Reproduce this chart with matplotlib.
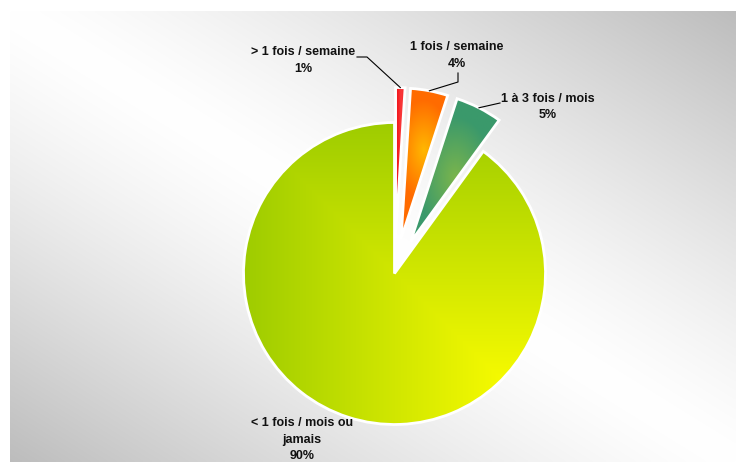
import numpy as np
import matplotlib.pyplot as plt

# frequency categories, clockwise from 12 o'clock
labels = [["> 1 fois / semaine"], ["1 fois / semaine"], ["1 à 3 fois / mois"],
          ["< 1 fois / mois ou", "jamais"]]
values = [1, 4, 5, 90]
explode = [35, 35, 35, 0]   # offsets in pixels (pie radius is in pixels too)

W, H = 736, 462
plt.rcParams['font.family'] = ['Liberation Sans', 'DejaVu Sans']

fig = plt.figure(figsize=(W / 100, H / 100), dpi=100)
ax = fig.add_axes([0, 0, 1, 1])


def Y(y_img):
    # image rows (top = 0) to data y
    return H - y_img


# background panel: light along the main diagonal, grey in the other corners
px0, px1, py0, py1 = 10, W, 11, H
u = np.linspace(0, 1, 300)[None, :]
v = np.linspace(0, 1, 200)[:, None]
g = 1 - 0.26 * np.abs(u - v) ** 1.3
ax.imshow(np.dstack([g, g, g]), extent=[px0, px1, Y(py1), Y(py0)],
          origin='upper', zorder=0, interpolation='bilinear')

cx, cy, R = 394.5, 273.5, 151
wedges, _ = ax.pie(values, explode=explode, startangle=90, counterclock=False,
                   radius=R, center=(cx, Y(cy)), frame=True,
                   wedgeprops=dict(facecolor='none', edgecolor='white', linewidth=2.0))
ax.set_xlim(0, W)
ax.set_ylim(0, H)
ax.set_aspect('equal')
ax.axis('off')


def shade(w, func, zorder=1):
    # fill a wedge with a gradient image clipped to its outline
    x0, x1 = w.center[0] - R, w.center[0] + R
    y0, y1 = w.center[1] - R, w.center[1] + R
    xs = np.linspace(x0, x1, 400)
    ys = np.linspace(y1, y0, 400)
    X, Yy = np.meshgrid(xs, ys)
    rgb = func(X, H - Yy)
    im = ax.imshow(rgb, extent=[x0, x1, y0, y1], origin='upper',
                   zorder=zorder, interpolation='bilinear')
    im.set_clip_path(w)
    w.set_zorder(zorder + 0.5)


def blend(c0, c1, t):
    c0 = np.array(c0)[None, None, :]
    c1 = np.array(c1)[None, None, :]
    return c0 + (c1 - c0) * np.clip(t, 0, 1)[..., None]


def red(x, y):
    t = np.exp(-((x - 401) / 3.0) ** 2)
    return blend((0.95, 0.08, 0.10), (1.0, 0.35, 0.35), t * 0.5)


def orange(x, y):
    d = np.hypot(x - 424, (y - 150) / 1.8)
    return blend((1.0, 0.72, 0.0), (1.0, 0.42, 0.0), d / 28)


def green(x, y):
    d = np.hypot(x - 456, (y - 178) / 1.6)
    return blend((0.48, 0.71, 0.30), (0.23, 0.60, 0.42), d / 38)


def main(x, y):
    # rectangular gradient spreading from the top-left corner of the pie box
    uu = (x - (cx - R)) / (2 * R)
    vv = (y - (cy - R)) / (2 * R)
    t = np.minimum(uu, vv) / 0.9
    return blend((0.62, 0.80, 0.0), (0.98, 0.99, 0.0), t)


for w, f in zip(wedges, [red, orange, green, main]):
    shade(w, f)

# labels, one line at a time (baselines in image rows)
fs = 9
pct = ["%d%%" % p for p in values]
label_x = [303, 457, 548, 302]
label_base = [55, 50.5, 101.5, 426]
pitch = 16.6
for lines, p, lx, by in zip(labels, pct, label_x, label_base):
    for k, line in enumerate(lines + [p]):
        ax.text(lx, Y(by + k * pitch), line, ha='center', va='baseline',
                fontsize=fs, fontweight='bold', color='#111111', zorder=5)


def outer_mid(w):
    a = np.deg2rad((w.theta1 + w.theta2) / 2)
    return w.center[0] + w.r * np.cos(a), w.center[1] + w.r * np.sin(a)


# leader lines from label to wedge rim
elbows = [[(357, 57), (367, 57)], [(458, 73), (458, 82)], [(500, 103)]]
for w, pts in zip(wedges[:3], elbows):
    ex, ey = outer_mid(w)
    xs = [p[0] for p in pts] + [ex]
    ys = [Y(p[1]) for p in pts] + [ey]
    ax.plot(xs, ys, color='black', lw=0.8, zorder=4)

fig.savefig('out.png', dpi=100)
